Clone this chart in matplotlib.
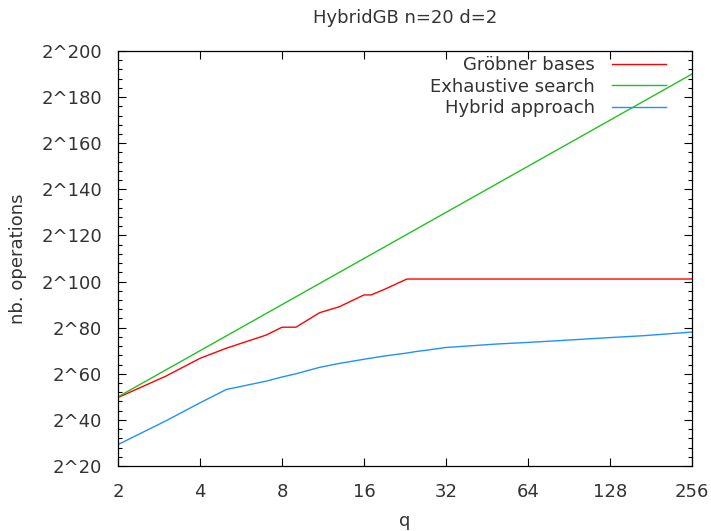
import matplotlib
matplotlib.use('Agg')
import matplotlib.pyplot as plt
from matplotlib.ticker import FixedLocator, MultipleLocator, FuncFormatter

# values are log2 of the number of operations
q_gb = [2, 3, 4, 5, 7, 8, 9, 11, 13, 16, 17, 19, 23, 32, 64, 128, 256]
gb = [49.7, 59.0, 66.7, 71.1, 76.8, 80.2, 80.2, 86.5, 89.1, 94.2, 94.2, 96.6, 101.1, 101.1, 101.1, 101.1, 101.1]

q_es = [2, 4, 8, 16, 32, 64, 128, 256]
es = [50, 70, 90, 110, 130, 150, 170, 190]

q_hy = [2, 3, 4, 5, 7, 8, 9, 11, 13, 16, 17, 19, 23, 25, 27, 32, 49, 64, 81, 128, 169, 256]
hy = [29.3, 39.6, 47.4, 53.2, 56.8, 58.6, 60.0, 62.8, 64.5, 66.3, 66.8, 67.7, 69.0, 69.7, 70.2, 71.4,
      72.9, 73.6, 74.3, 75.7, 76.5, 78.1]

xticks = [2, 4, 8, 16, 32, 64, 128, 256]

txt = '#333333'
fs = 13
plt.rcParams['font.family'] = 'DejaVu Sans'
plt.rcParams['font.size'] = fs

fig = plt.figure(figsize=(7.11, 5.31), dpi=100)
ax = fig.add_axes([118/711, 65/531, 574/711, 415/531])

ax.plot(q_gb, gb, color='#ff0000', lw=1, label='Gröbner bases')
ax.plot(q_es, es, color='#22c022', lw=1, label='Exhaustive search')
ax.plot(q_hy, hy, color='#2090ff', lw=1, label='Hybrid approach')

ax.set_xscale('log', base=2)
ax.set_xlim(2, 256)
ax.set_ylim(20, 200)
ax.xaxis.set_major_locator(FixedLocator(xticks))
ax.xaxis.set_minor_locator(FixedLocator([]))
ax.xaxis.set_major_formatter(FuncFormatter(lambda v, p: '%d' % v))
ax.yaxis.set_major_locator(MultipleLocator(20))
ax.yaxis.set_minor_locator(MultipleLocator(4))
ax.yaxis.set_major_formatter(FuncFormatter(lambda v, p: '2^%d' % v))

ax.tick_params(which='both', direction='in', top=True, right=True, colors='black',
               labelcolor=txt, labelsize=fs)
ax.tick_params(which='major', length=6, width=0.8)
ax.tick_params(which='minor', length=3, width=0.8)
ax.tick_params(axis='x', pad=12)
ax.tick_params(axis='y', pad=11.5)
for s in ax.spines.values():
    s.set_linewidth(0.9)

ax.set_xlabel('q', color=txt, fontsize=fs, labelpad=8)
ax.set_ylabel('nb. operations', color=txt, fontsize=fs, labelpad=10)
ax.set_title('HybridGB n=20 d=2', color=txt, fontsize=fs, pad=20)

leg = ax.legend(loc='upper right', frameon=False, markerfirst=False, fontsize=fs,
                handlelength=3.0, handletextpad=0.95, labelspacing=0.2,
                borderaxespad=0.0, bbox_to_anchor=(0.968, 1.005))
for t in leg.get_texts():
    t.set_color(txt)

fig.savefig('out.png', dpi=100)
